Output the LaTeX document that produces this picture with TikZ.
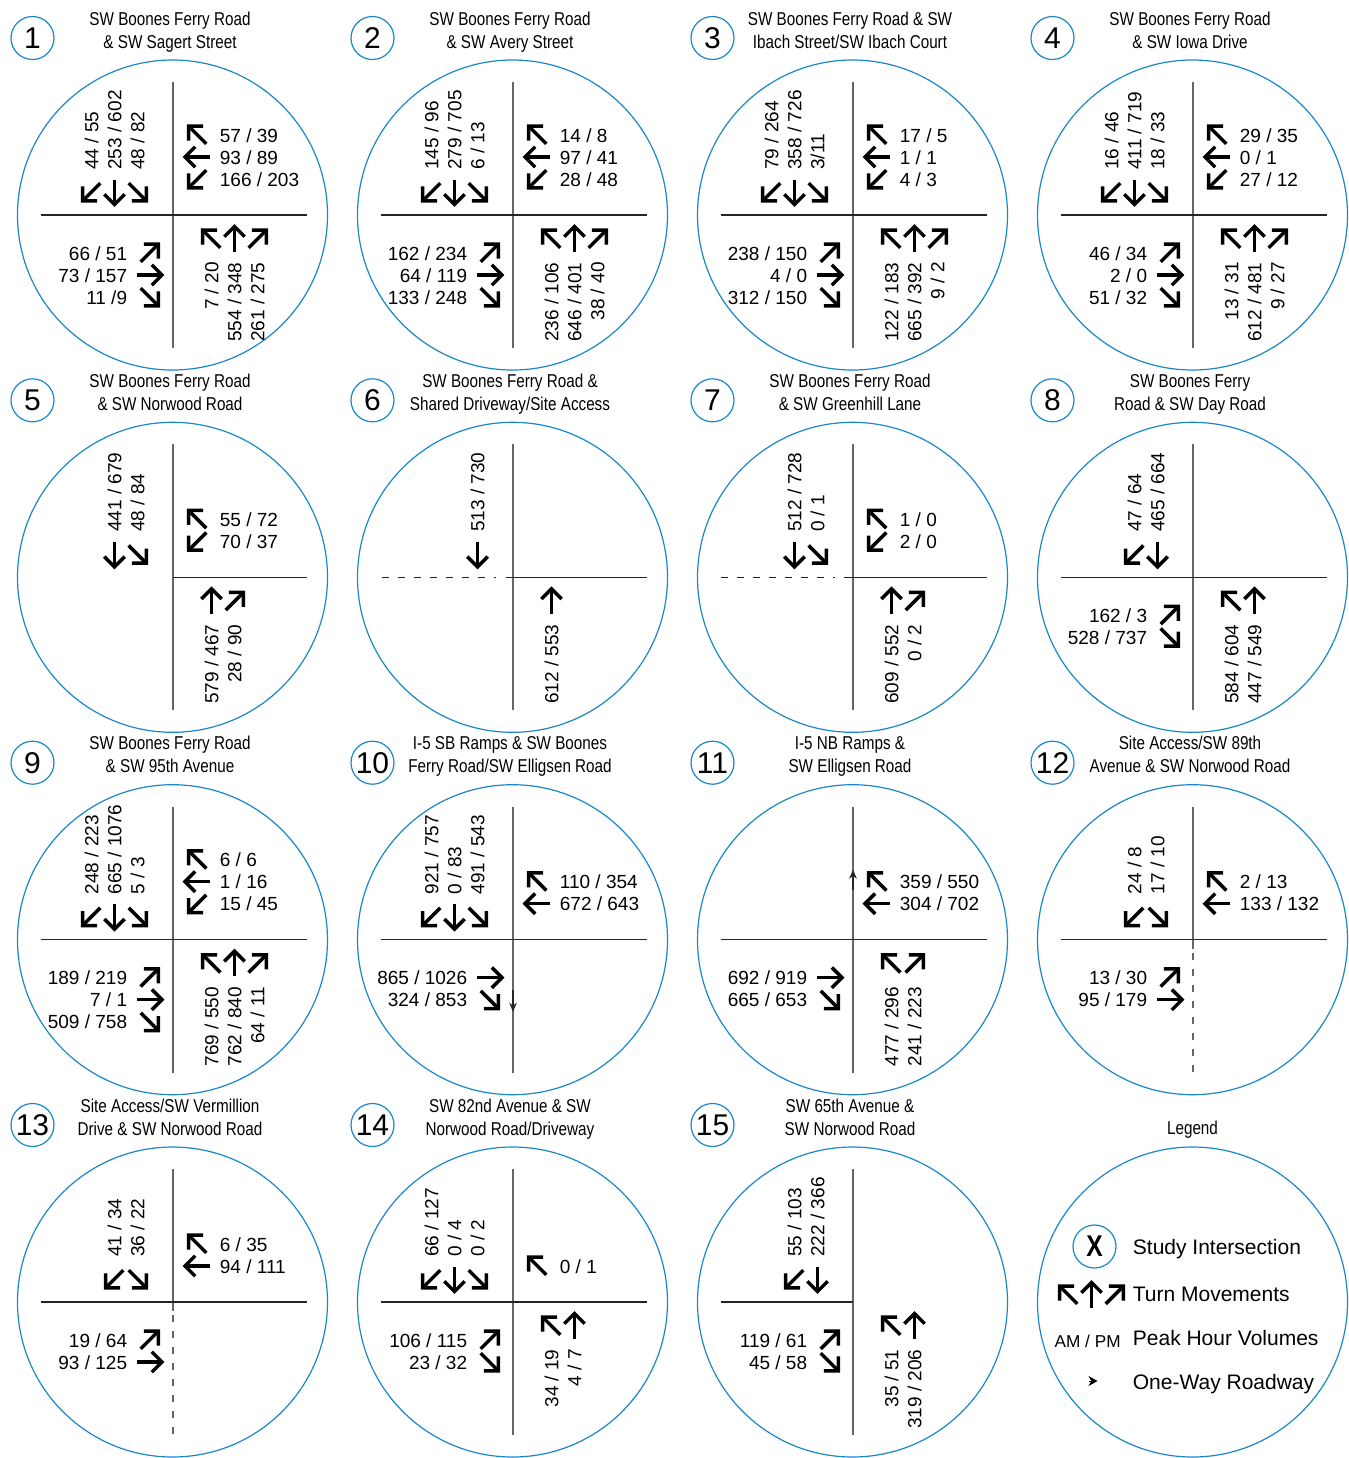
\documentclass[tikz,border=0pt]{standalone}
\usepackage{fontspec}
\setmainfont{Liberation Sans}
\newfontfamily\keskeny[FakeStretch=0.82]{Liberation Sans}
\usetikzlibrary{arrows.meta}
\definecolor{kek}{RGB}{25,135,200}
\tikzset{
  kor/.style={draw=kek,line width=0.6pt},
  jel/.style={circle,draw=kek,line width=0.6pt,minimum size=21.5pt,inner sep=0pt,font=\fontsize{15}{15}\selectfont},
  cim/.style={anchor=base,inner sep=0pt,font=\keskeny\fontsize{9.3}{11}\selectfont},
  szam/.style={inner sep=0pt,font=\fontsize{9.5}{11}\selectfont},
  leg/.style={anchor=base west,inner sep=0pt,font=\fontsize{10.5}{12}\selectfont},
  ut/.style={line width=0.65pt,black!85},
  utf/.style={line width=0.65pt,black!60},
  szagg/.style={dash pattern=on 3.5pt off 4.5pt},
  irv/.style={line width=1.75pt,line join=miter},
  egyir/.style={-{Stealth[length=4.5pt,width=3.8pt]},line width=0.65pt,black!85},
  ir/.pic={\draw[irv] (-12.5,0) -- (12.5,0); \draw[irv] (2.3,-10.2) -- (12.5,0) -- (2.3,10.2);},
}
% circle, badge and two title lines of one intersection
\newcommand{\ix}[3]{%
  \draw[kor] (0,0) circle[radius=155];
  \node[jel] (j#1) at (-140,-177) {#1};
  \node[cim] (c#1a) at (-2.5,-190) {#2};
  \node[cim] (c#1b) at (-2.5,-167) {#3};}
\newcommand{\utak}{\draw[utf] (0.5,-133) -- (0.5,133); \draw[ut] (-132,0) -- (134,0);}
% movements: #1 nr, #2 slot, #3 arrow angle, #4 volumes
\newcommand{\mvS}[4]{\pgfmathsetmacro\mvx{-104+23*#2}
  \pic[rotate=#3] at (\mvx,-23) {ir};
  \node[szam,rotate=90,anchor=west] (s#1-#2) at (\mvx,-45) {#4};}
\newcommand{\mvN}[4]{\pgfmathsetmacro\mvx{16+23*#2}
  \pic[rotate=#3] at (\mvx,24) {ir};
  \node[szam,rotate=90,anchor=east] (n#1-#2) at (\mvx,47) {#4};}
\newcommand{\mvW}[4]{\pgfmathsetmacro\mvy{-102+22*#2}
  \pic[rotate=#3] at (25,\mvy) {ir};
  \node[szam,anchor=base west] (w#1-#2) at (47,\mvy+7) {#4};}
\newcommand{\mvE}[4]{\pgfmathsetmacro\mvy{16+22*#2}
  \pic[rotate=#3] at (-23,\mvy) {ir};
  \node[szam,anchor=base east] (e#1-#2) at (-45,\mvy+7) {#4};}

\begin{document}
\begin{tikzpicture}[x=0.5pt,y=-0.5pt]
  \useasboundingbox (0,0) rectangle (1349,1458);
  % row 1
  \begin{scope}[shift={(172.5,215)}]
    \ix{1}{SW Boones Ferry Road}{\& SW Sagert Street} \utak
    \mvS{1}{1}{225}{44 / 55} \mvS{1}{2}{270}{253 / 602} \mvS{1}{3}{315}{48 / 82}
    \mvW{1}{1}{135}{57 / 39} \mvW{1}{2}{180}{93 / 89} \mvW{1}{3}{225}{166 / 203}
    \mvE{1}{1}{45}{66 / 51} \mvE{1}{2}{0}{73 / 157} \mvE{1}{3}{315}{11 /9}
    \mvN{1}{1}{135}{7 / 20} \mvN{1}{2}{90}{554 / 348} \mvN{1}{3}{45}{261 / 275}
  \end{scope}
  \begin{scope}[shift={(512.5,215)}]
    \ix{2}{SW Boones Ferry Road}{\& SW Avery Street} \utak
    \mvS{2}{1}{225}{145 / 96} \mvS{2}{2}{270}{279 / 705} \mvS{2}{3}{315}{6 / 13}
    \mvW{2}{1}{135}{14 / 8} \mvW{2}{2}{180}{97 / 41} \mvW{2}{3}{225}{28 / 48}
    \mvE{2}{1}{45}{162 / 234} \mvE{2}{2}{0}{64 / 119} \mvE{2}{3}{315}{133 / 248}
    \mvN{2}{1}{135}{236 / 106} \mvN{2}{2}{90}{646 / 401} \mvN{2}{3}{45}{38 / 40}
  \end{scope}
  \begin{scope}[shift={(852.5,215)}]
    \ix{3}{SW Boones Ferry Road \& SW}{Ibach Street/SW Ibach Court} \utak
    \mvS{3}{1}{225}{79 / 264} \mvS{3}{2}{270}{358 / 726} \mvS{3}{3}{315}{3/11}
    \mvW{3}{1}{135}{17 / 5} \mvW{3}{2}{180}{1 / 1} \mvW{3}{3}{225}{4 / 3}
    \mvE{3}{1}{45}{238 / 150} \mvE{3}{2}{0}{4 / 0} \mvE{3}{3}{315}{312 / 150}
    \mvN{3}{1}{135}{122 / 183} \mvN{3}{2}{90}{665 / 392} \mvN{3}{3}{45}{9 / 2}
  \end{scope}
  \begin{scope}[shift={(1192.5,215)}]
    \ix{4}{SW Boones Ferry Road}{\& SW Iowa Drive} \utak
    \mvS{4}{1}{225}{16 / 46} \mvS{4}{2}{270}{411 / 719} \mvS{4}{3}{315}{18 / 33}
    \mvW{4}{1}{135}{29 / 35} \mvW{4}{2}{180}{0 / 1} \mvW{4}{3}{225}{27 / 12}
    \mvE{4}{1}{45}{46 / 34} \mvE{4}{2}{0}{2 / 0} \mvE{4}{3}{315}{51 / 32}
    \mvN{4}{1}{135}{13 / 31} \mvN{4}{2}{90}{612 / 481} \mvN{4}{3}{45}{9 / 27}
  \end{scope}
  % row 2
  \begin{scope}[shift={(172.5,577.3)}]
    \ix{5}{SW Boones Ferry Road}{\& SW Norwood Road}
    \draw[utf] (0.5,-133) -- (0.5,133); \draw[ut] (0.5,0) -- (134,0);
    \mvS{5}{2}{270}{441 / 679} \mvS{5}{3}{315}{48 / 84}
    \mvW{5}{2}{135}{55 / 72} \mvW{5}{3}{225}{70 / 37}
    \mvN{5}{1}{90}{579 / 467} \mvN{5}{2}{45}{28 / 90}
  \end{scope}
  \begin{scope}[shift={(512.5,577.3)}]
    \ix{6}{SW Boones Ferry Road \&}{Shared Driveway/Site Access}
    \draw[utf] (0.5,-133) -- (0.5,133); \draw[ut,szagg] (-131,0) -- (-17,0); \draw[ut] (-7,0) -- (134,0);
    \mvS{6}{3}{270}{513 / 730}
    \mvN{6}{1}{90}{612 / 553}
  \end{scope}
  \begin{scope}[shift={(852.5,577.3)}]
    \ix{7}{SW Boones Ferry Road}{\& SW Greenhill Lane}
    \draw[utf] (0.5,-133) -- (0.5,133); \draw[ut,szagg] (-132,0) -- (-18,0); \draw[ut] (-9,0) -- (134,0);
    \mvS{7}{2}{270}{512 / 728} \mvS{7}{3}{315}{0 / 1}
    \mvW{7}{2}{135}{1 / 0} \mvW{7}{3}{225}{2 / 0}
    \mvN{7}{1}{90}{609 / 552} \mvN{7}{2}{45}{0 / 2}
  \end{scope}
  \begin{scope}[shift={(1192.5,577.3)}]
    \ix{8}{SW Boones Ferry}{Road \& SW Day Road} \utak
    \mvS{8}{2}{225}{47 / 64} \mvS{8}{3}{270}{465 / 664}
    \mvE{8}{1}{45}{162 / 3} \mvE{8}{2}{315}{528 / 737}
    \mvN{8}{1}{135}{584 / 604} \mvN{8}{2}{90}{447 / 549}
  \end{scope}
  % row 3
  \begin{scope}[shift={(172.5,939.7)}]
    \ix{9}{SW Boones Ferry Road}{\& SW 95th Avenue} \utak
    \mvS{9}{1}{225}{248 / 223} \mvS{9}{2}{270}{665 / 1076} \mvS{9}{3}{315}{5 / 3}
    \mvW{9}{1}{135}{6 / 6} \mvW{9}{2}{180}{1 / 16} \mvW{9}{3}{225}{15 / 45}
    \mvE{9}{1}{45}{189 / 219} \mvE{9}{2}{0}{7 / 1} \mvE{9}{3}{315}{509 / 758}
    \mvN{9}{1}{135}{769 / 550} \mvN{9}{2}{90}{762 / 840} \mvN{9}{3}{45}{64 / 11}
  \end{scope}
  \begin{scope}[shift={(512.5,939.7)}]
    \ix{10}{I-5 SB Ramps \& SW Boones}{Ferry Road/SW Elligsen Road} \utak
    \draw[egyir] (0.5,50) -- (0.5,72);
    \mvS{10}{1}{225}{921 / 757} \mvS{10}{2}{270}{0 / 83} \mvS{10}{3}{315}{491 / 543}
    \mvW{10}{2}{135}{110 / 354} \mvW{10}{3}{180}{672 / 643}
    \mvE{10}{1}{0}{865 / 1026} \mvE{10}{2}{315}{324 / 853}
  \end{scope}
  \begin{scope}[shift={(852.5,939.7)}]
    \ix{11}{I-5 NB Ramps \&}{SW Elligsen Road} \utak
    \draw[egyir] (0.5,-50) -- (0.5,-70);
    \mvW{11}{2}{135}{359 / 550} \mvW{11}{3}{180}{304 / 702}
    \mvE{11}{1}{0}{692 / 919} \mvE{11}{2}{315}{665 / 653}
    \mvN{11}{1}{135}{477 / 296} \mvN{11}{2}{45}{241 / 223}
  \end{scope}
  \begin{scope}[shift={(1192.5,939.7)}]
    \ix{12}{Site Access/SW 89th}{Avenue \& SW Norwood Road}
    \draw[utf] (0.5,-133) -- (0.5,9); \draw[utf,szagg] (0.5,13) -- (0.5,133); \draw[ut] (-132,0) -- (134,0);
    \mvS{12}{2}{225}{24 / 8} \mvS{12}{3}{315}{17 / 10}
    \mvW{12}{2}{135}{2 / 13} \mvW{12}{3}{180}{133 / 132}
    \mvE{12}{1}{45}{13 / 30} \mvE{12}{2}{0}{95 / 179}
  \end{scope}
  % row 4
  \begin{scope}[shift={(172.5,1302)}]
    \ix{13}{Site Access/SW Vermillion}{Drive \& SW Norwood Road}
    \draw[utf] (0.5,-133) -- (0.5,9); \draw[utf,szagg] (0.5,13) -- (0.5,133); \draw[ut] (-132,0) -- (134,0);
    \mvS{13}{2}{225}{41 / 34} \mvS{13}{3}{315}{36 / 22}
    \mvW{13}{2}{135}{6 / 35} \mvW{13}{3}{180}{94 / 111}
    \mvE{13}{1}{45}{19 / 64} \mvE{13}{2}{0}{93 / 125}
  \end{scope}
  \begin{scope}[shift={(512.5,1302)}]
    \ix{14}{SW 82nd Avenue \& SW}{Norwood Road/Driveway} \utak
    \mvS{14}{1}{225}{66 / 127} \mvS{14}{2}{270}{0 / 4} \mvS{14}{3}{315}{0 / 2}
    \mvW{14}{3}{135}{0 / 1}
    \mvE{14}{1}{45}{106 / 115} \mvE{14}{2}{315}{23 / 32}
    \mvN{14}{1}{135}{34 / 19} \mvN{14}{2}{90}{4 / 7}
  \end{scope}
  \begin{scope}[shift={(852.5,1302)}]
    \ix{15}{SW 65th Avenue \&}{SW Norwood Road}
    \draw[utf] (0.5,-133) -- (0.5,133); \draw[ut] (-132,0) -- (0.5,0);
    \mvS{15}{2}{225}{55 / 103} \mvS{15}{3}{270}{222 / 366}
    \mvE{15}{1}{45}{119 / 61} \mvE{15}{2}{315}{45 / 58}
    \mvN{15}{1}{135}{35 / 51} \mvN{15}{2}{90}{319 / 206}
  \end{scope}
  % legend
  \begin{scope}[shift={(1192.5,1302)}]
    \draw[kor] (0,0) circle[radius=155];
    \node[cim] (cl) at (0,-168) {Legend};
    \node[jel,font=\keskeny\bfseries\fontsize{15}{15}\selectfont] (jx) at (-98,-55.5) {X};
    \node[leg] (l1) at (-60,-48) {Study Intersection};
    \pic[rotate=135] at (-124,-7) {ir}; \pic[rotate=90] at (-101,-7) {ir}; \pic[rotate=45] at (-78,-7) {ir};
    \node[leg] (l2) at (-60,-1) {Turn Movements};
    \node[szam,anchor=base east,font=\fontsize{8.6}{10}\selectfont] (l3a) at (-71.5,45) {AM / PM};
    \node[leg] (l3) at (-60,43) {Peak Hour Volumes};
    \draw[line width=0.5pt,-{Stealth[length=4.5pt,width=5pt]}] (-104,79) -- (-95,79);
    \node[leg] (l4) at (-60,87) {One-Way Roadway};
  \end{scope}
\end{tikzpicture}
\end{document}
